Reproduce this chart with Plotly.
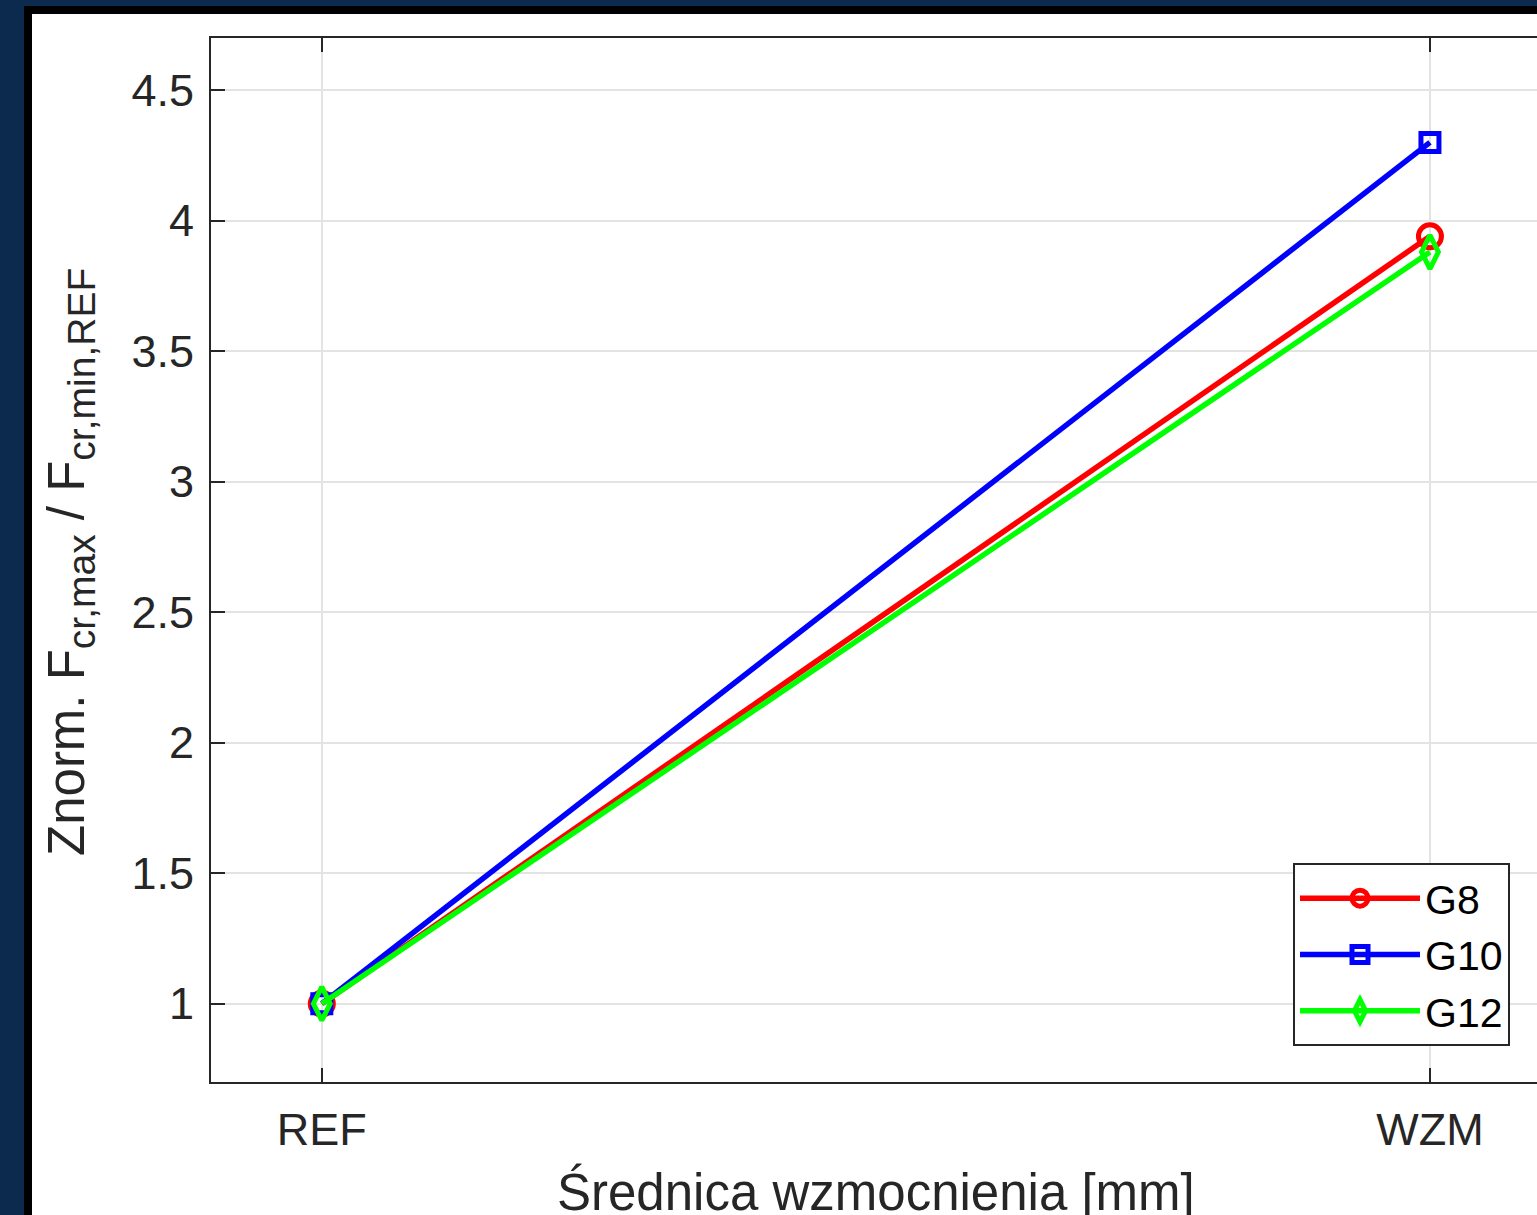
import plotly.graph_objects as go

categories = ["REF", "WZM"]
series_names = ["G8", "G10", "G12"]
g8 = [1.0, 3.94]
g10 = [1.0, 4.30]
g12 = [1.0, 3.88]
y_tickvals = [1, 1.5, 2, 2.5, 3, 3.5, 4, 4.5]
y_ticktext = ["1", "1.5", "2", "2.5", "3", "3.5", "4", "4.5"]

W, H = 1537, 1215
L, R, T, B = 211, 0, 38, 133
PW, PH = W - L - R, H - T - B

def px(x):
    return (x - L) / PW

def py(y):
    return (H - B - y) / PH

FONT = "Liberation Sans, Arial, sans-serif"
AX = "#262626"

fig = go.Figure()
styles = [
    dict(color="#FF0000", symbol="circle-open", size=23),
    dict(color="#0000FF", symbol="square-open", size=18),
    dict(color="#00FF00", symbol="diamond-tall-open", size=24),
]
for name, vals, st in zip(series_names, [g8, g10, g12], styles):
    fig.add_trace(go.Scatter(
        x=categories, y=vals, name=name, mode="lines+markers",
        line=dict(color=st["color"], width=5.5),
        marker=dict(symbol=st["symbol"], size=st["size"], color=st["color"],
                    line=dict(color=st["color"], width=5)),
    ))

SUB = '<sub><span style="font-size:39px">{}</span></sub>'
ytitle = "Znorm. F" + SUB.format("cr,max") + " / F" + SUB.format("cr,min,REF")

fig.update_layout(
    width=W, height=H,
    margin=dict(l=L, r=R, t=T, b=B, pad=0),
    paper_bgcolor="#0c2a4e",
    plot_bgcolor="rgba(0,0,0,0)",
    font=dict(family=FONT, size=45, color=AX),
    showlegend=True,
    legend=dict(
        x=px(1510), y=py(1046), xanchor="right", yanchor="bottom",
        bgcolor="white", bordercolor=AX, borderwidth=2,
        font=dict(family=FONT, size=41, color="black"),
        itemwidth=120, tracegroupgap=0,
    ),
    xaxis=dict(
        type="category", range=[-0.1, 1.0966],
        showline=True, linecolor=AX, linewidth=2, mirror="ticks",
        ticks="inside", ticklen=14, tickwidth=2, tickcolor=AX,
        showgrid=True, gridcolor="#e3e3e3", gridwidth=2,
        zeroline=False, tickfont=dict(size=45, color=AX),
        ticklabelstandoff=7,
    ),
    yaxis=dict(
        range=[0.7, 4.7], tickvals=y_tickvals, ticktext=y_ticktext,
        showline=True, linecolor=AX, linewidth=2, mirror=False,
        ticks="inside", ticklen=14, tickwidth=2, tickcolor=AX,
        showgrid=True, gridcolor="#e3e3e3", gridwidth=2,
        zeroline=False, tickfont=dict(size=45, color=AX),
        ticklabelstandoff=6,
    ),
    yaxis2=dict(
        overlaying="y", side="right", range=[0.7, 4.7], tickvals=y_tickvals,
        showticklabels=False, showline=False, showgrid=False, zeroline=False,
        ticks="inside", ticklen=14, tickwidth=2, tickcolor=AX,
    ),
    shapes=[
        dict(type="rect", xref="paper", yref="paper", layer="below",
             x0=px(24), x1=px(1600), y0=py(1300), y1=py(6),
             fillcolor="black", line=dict(width=0)),
        dict(type="rect", xref="paper", yref="paper", layer="below",
             x0=px(32), x1=px(1600), y0=py(1300), y1=py(14),
             fillcolor="white", line=dict(width=0)),
    ],
    annotations=[
        dict(text=ytitle,
             xref="paper", yref="paper", x=px(70), y=py(562),
             xanchor="center", yanchor="middle", textangle=-90,
             showarrow=False, font=dict(family=FONT, size=51, color=AX)),
        dict(text="Średnica wzmocnienia [mm]",
             xref="paper", yref="paper", x=px(876), y=py(1192),
             xanchor="center", yanchor="middle",
             showarrow=False, font=dict(family=FONT, size=51, color=AX)),
    ],
)

fig.write_html("out.html")
